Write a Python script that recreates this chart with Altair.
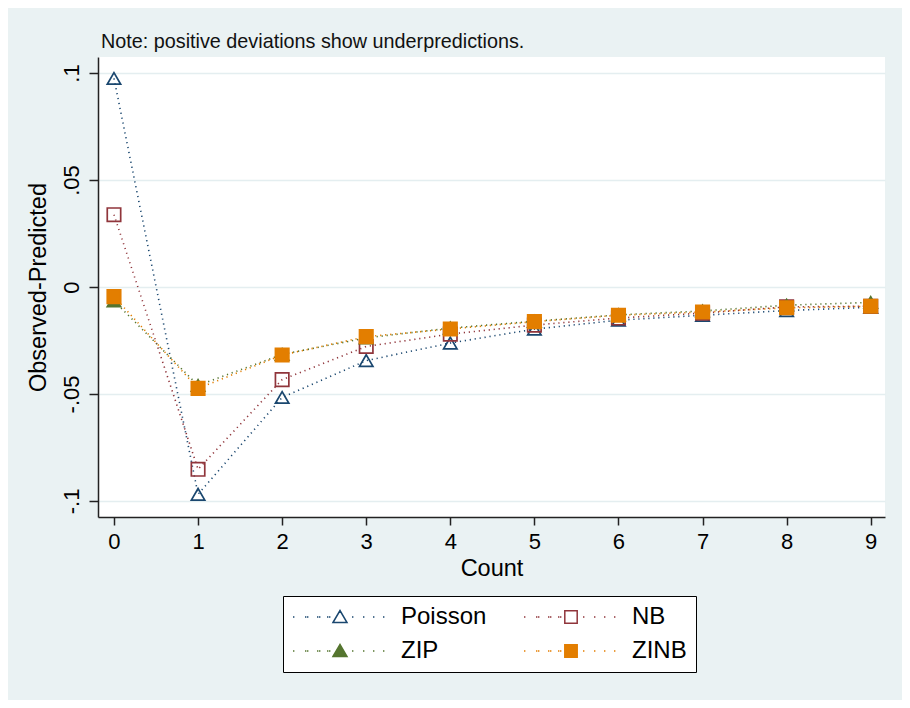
import altair as alt
import pandas as pd

# ---- data ----
counts = [0, 1, 2, 3, 4, 5, 6, 7, 8, 9]
poisson = [0.0975, -0.0969, -0.0516, -0.0344, -0.0262, -0.0197, -0.0155, -0.0132, -0.0110, -0.0095]
nb = [0.0338, -0.0852, -0.0433, -0.0278, -0.0220, -0.0178, -0.0145, -0.0122, -0.0093, -0.0090]
zip_ = [-0.0065, -0.0460, -0.0315, -0.0238, -0.0192, -0.0160, -0.0130, -0.0112, -0.0085, -0.0072]
zinb = [-0.0045, -0.0474, -0.0318, -0.0232, -0.0196, -0.0162, -0.0132, -0.0117, -0.0097, -0.0090]

models = ["Poisson", "NB", "ZIP", "ZINB"]
series = [poisson, nb, zip_, zinb]
colors = ["#1a476f", "#90353b", "#55752f", "#e37e00"]
fills = ["transparent", "transparent", "#55752f", "#e37e00"]
shapes = ["triangle-up", "square", "triangle-up", "square"]

y_ticks = [-0.1, -0.05, 0, 0.05, 0.1]
y_tick_labels = ["-.1", "-.05", "0", ".05", ".1"]
x_ticks = counts

note = "Note: positive deviations show underpredictions."
FONT = "Liberation Sans"

rows = []
for m, vals in zip(models, series):
    for c, v in zip(counts, vals):
        rows.append({"count": c, "value": v, "model": m})
df = pd.DataFrame(rows)

label_expr = " : ".join(
    f"abs(datum.value - ({t})) < 1e-6 ? '{l}'" for t, l in zip(y_ticks, y_tick_labels)
) + " : ''"

x_enc = alt.X(
    "count:Q",
    scale=alt.Scale(domain=[-0.19, 9.17], nice=False, zero=False),
    axis=alt.Axis(values=x_ticks, format="d", title="Count", grid=False,
                  labelFontSize=22, titleFontSize=23.5, tickSize=8,
                  labelPadding=6, titlePadding=4),
)
y_enc = alt.Y(
    "value:Q",
    scale=alt.Scale(domain=[-0.1075, 0.1075], nice=False, zero=False),
    axis=alt.Axis(values=y_ticks, labelExpr=label_expr, title="Observed-Predicted",
                  labelAngle=270, labelAlign="center", labelBaseline="bottom",
                  labelFontSize=22, titleFontSize=23.5, tickSize=9,
                  labelPadding=6, titlePadding=10, grid=True),
)

base = alt.Chart(df)
layers = []
for m, col, fil, shp in zip(models, colors, fills, shapes):
    sub = base.transform_filter(alt.datum.model == m)
    layers.append(
        sub.mark_line(color=col, strokeDash=[1.2, 3.8], strokeWidth=1.6).encode(x=x_enc, y=y_enc)
    )
    layers.append(
        sub.mark_point(shape=shp, size=180, stroke=col, fill=fil, strokeWidth=1.7, opacity=1)
        .encode(x=x_enc, y=y_enc)
    )

# legend symbols: dotted line segment + marker (path units scaled by sqrt(size)/2)
dot_x = [-4.7, -3.5, -3.3, -2.3, -2.1, -1.3, -1.1, 1.2, 2.3, 3.3, 4.3]
dots = "".join(f"M{d},0h0.14" for d in dot_x)
tri = "M-0.7,0.55L0,-0.65L0.7,0.55Z"
sq = "M-0.62,-0.62H0.62V0.62H-0.62Z"
legend_paths = [dots + tri, dots + sq, dots + tri, dots + sq]

leg = alt.Legend(
    title=None, orient="none", legendX=185, legendY=539, columns=2, direction="horizontal",
    symbolSize=400, symbolStrokeWidth=1.5, symbolOffset=36, labelOffset=49,
    columnPadding=34, rowPadding=10, padding=9,
    labelFontSize=24, labelFont=FONT, labelColor="#000",
    fillColor="white", strokeColor="#000",
)
legend_layer = base.transform_filter("false").mark_point(opacity=1, strokeWidth=1.5).encode(
    x=x_enc, y=y_enc,
    shape=alt.Shape("model:N", scale=alt.Scale(domain=models, range=legend_paths), legend=leg),
    stroke=alt.Stroke("model:N", scale=alt.Scale(domain=models, range=colors), legend=leg),
    fill=alt.Fill("model:N", scale=alt.Scale(domain=models, range=fills), legend=leg),
)
layers.append(legend_layer)

chart = alt.layer(*layers).properties(
    width=787, height=460,
    autosize=alt.AutoSizeParams(type="none"),
    padding={"left": 90, "top": 49, "right": 17, "bottom": 183},
    background="#eaf2f3",
    title=alt.Title(note, anchor="start", frame="group", fontSize=19.8, font=FONT,
                    fontWeight="normal", color="#111", offset=5, dx=3),
).configure_view(
    stroke=None, fill="white"
).configure_axis(
    labelFont=FONT, titleFont=FONT, labelColor="#000", titleColor="#000",
    titleFontWeight="normal", domainColor="#222", domainWidth=1.5,
    tickColor="#222", tickWidth=1.5, gridColor="#e4eef0", gridWidth=1.5,
)

chart.save("out.html", embed_options={"renderer": "svg", "actions": False})
